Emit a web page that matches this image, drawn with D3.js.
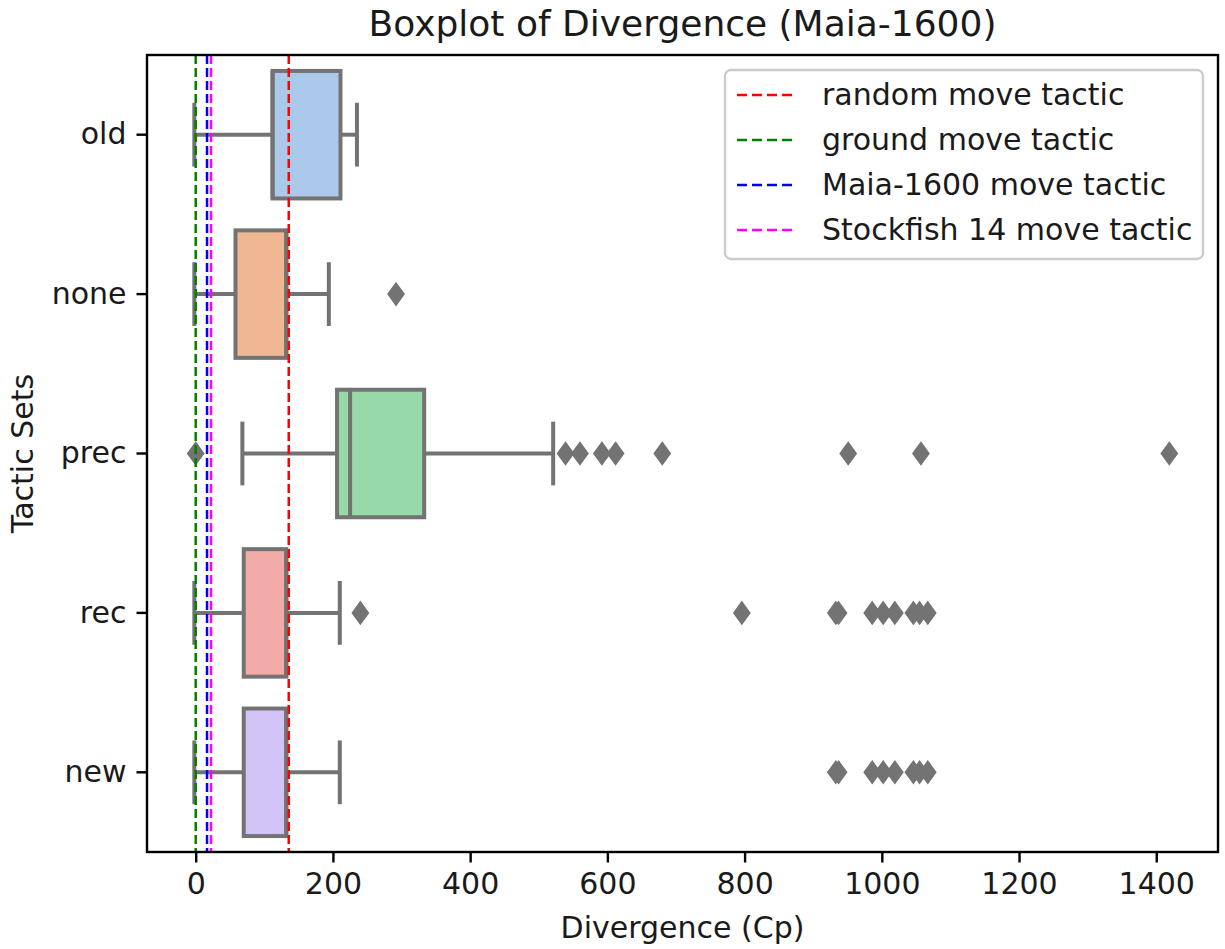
<!DOCTYPE html>
<html>
<head>
<meta charset="utf-8">
<script src="https://cdn.jsdelivr.net/npm/d3@7"></script>
<style>
  html, body { margin: 0; padding: 0; background: #fff; }
  text { font-family: "DejaVu Sans", sans-serif; fill: #1a1a1a; }
</style>
</head>
<body>
<div id="chart"></div>
<script>
// Tactic sets, one box each
const categories = ["old", "none", "prec", "rec", "new"]
const boxColors = ["#abc9ea", "#efb792", "#98daa7", "#f3aba8", "#d3c4f7"]

const q1 = [112, 58, 206, 70, 70]
const medians = [112, 132, 225, 132, 132]
const q3 = [211, 132, 333, 132, 132]
const whiskerLow = [-2, -2, 68, -2, -2]
const whiskerHigh = [235, 194, 521, 210, 210]
const outliers = [
  [],
  [292],
  [0, 539, 560, 592, 612, 680, 951, 1057, 1419],
  [240, 796, 933, 937, 986, 1002, 1019, 1046, 1055, 1067],
  [933, 937, 986, 1002, 1019, 1046, 1055, 1067],
]

// Reference lines (draw order = legend order)
const refLabels = ["random move tactic", "ground move tactic", "Maia-1600 move tactic", "Stockfish 14 move tactic"]
const refValues = [135.6, 0, 16.5, 22.3]
const refColors = ["#ff0000", "#008000", "#0000ff", "#ff00ff"]

const xTicks = [0, 200, 400, 600, 800, 1000, 1200, 1400]
const xLimits = [-71, 1490]

const width = 1225
const height = 949
const margin = { top: 55, right: 7, bottom: 97, left: 147 }
const innerW = width - margin.left - margin.right
const innerH = height - margin.top - margin.bottom
const GRAY = "#737373"

const svg = d3.select("#chart").append("svg")
  .attr("width", width)
  .attr("height", height)

const x = d3.scaleLinear()
  .domain(xLimits)
  .range([0, innerW])

const y = d3.scaleBand()
  .domain(categories)
  .range([0, innerH])
  .padding(0)

const g = svg.append("g")
  .attr("transform", `translate(${margin.left},${margin.top})`)

const boxH = y.bandwidth() * 0.8
const capH = boxH * 0.5

// Boxes
categories.forEach((c, i) => {
  const cy = y(c) + y.bandwidth() / 2
  const bg = g.append("g")

  // whiskers
  bg.append("line")
    .attr("x1", x(whiskerLow[i])).attr("x2", x(q1[i]))
    .attr("y1", cy).attr("y2", cy)
    .attr("stroke", GRAY).attr("stroke-width", 4)
  bg.append("line")
    .attr("x1", x(q3[i])).attr("x2", x(whiskerHigh[i]))
    .attr("y1", cy).attr("y2", cy)
    .attr("stroke", GRAY).attr("stroke-width", 4)

  // caps
  ;[whiskerLow[i], whiskerHigh[i]].forEach(v => {
    bg.append("line")
      .attr("x1", x(v)).attr("x2", x(v))
      .attr("y1", cy - capH / 2).attr("y2", cy + capH / 2)
      .attr("stroke", GRAY).attr("stroke-width", 4)
  })

  // box
  bg.append("rect")
    .attr("x", x(q1[i]))
    .attr("y", cy - boxH / 2)
    .attr("width", x(q3[i]) - x(q1[i]))
    .attr("height", boxH)
    .attr("fill", boxColors[i])
    .attr("stroke", GRAY).attr("stroke-width", 4)

  // median
  bg.append("line")
    .attr("x1", x(medians[i])).attr("x2", x(medians[i]))
    .attr("y1", cy - boxH / 2).attr("y2", cy + boxH / 2)
    .attr("stroke", GRAY).attr("stroke-width", 4)

  // fliers (thin diamonds)
  bg.selectAll(".flier")
    .data(outliers[i])
    .enter().append("path")
    .attr("class", "flier")
    .attr("d", d => `M${x(d)},${cy - 11} L${x(d) + 8},${cy} L${x(d)},${cy + 11} L${x(d) - 8},${cy} Z`)
    .attr("fill", GRAY)
    .attr("stroke", GRAY).attr("stroke-width", 1.5)
})

// Reference lines
refValues.forEach((v, i) => {
  g.append("line")
    .attr("x1", x(v)).attr("x2", x(v))
    .attr("y1", 0).attr("y2", innerH)
    .attr("stroke", refColors[i])
    .attr("stroke-width", 2.5)
    .attr("stroke-dasharray", "9 4")
})

// Frame
g.append("rect")
  .attr("x", 0).attr("y", 0)
  .attr("width", innerW).attr("height", innerH)
  .attr("fill", "none")
  .attr("stroke", "#000").attr("stroke-width", 2.4)

// X axis
const xAxis = g.append("g")
  .attr("transform", `translate(0,${innerH})`)
  .call(d3.axisBottom(x).tickValues(xTicks).tickSize(10.5).tickPadding(10).tickFormat(d3.format("d")))
xAxis.select(".domain").remove()
xAxis.selectAll(".tick line").attr("stroke", "#000").attr("stroke-width", 2.4)
xAxis.selectAll("text")
  .attr("font-size", 30)
  .attr("fill", "#1a1a1a")
  .attr("font-family", "DejaVu Sans, sans-serif")

// Y axis
const yAxis = g.append("g")
  .call(d3.axisLeft(y).tickSize(10.5).tickPadding(10))
yAxis.select(".domain").remove()
yAxis.selectAll(".tick line").attr("stroke", "#000").attr("stroke-width", 2.4)
yAxis.selectAll("text")
  .attr("font-size", 30)
  .attr("fill", "#1a1a1a")
  .attr("font-family", "DejaVu Sans, sans-serif")

// Axis labels and title
svg.append("text")
  .attr("x", margin.left + innerW / 2)
  .attr("y", 938)
  .attr("text-anchor", "middle")
  .attr("font-size", 30)
  .text("Divergence (Cp)")

svg.append("text")
  .attr("transform", `translate(33,${margin.top + innerH / 2}) rotate(-90)`)
  .attr("text-anchor", "middle")
  .attr("font-size", 30)
  .text("Tactic Sets")

svg.append("text")
  .attr("x", margin.left + innerW / 2)
  .attr("y", 36)
  .attr("text-anchor", "middle")
  .attr("font-size", 36)
  .text("Boxplot of Divergence (Maia-1600)")

// Legend
const legend = svg.append("g").attr("transform", "translate(725,70)")
legend.append("rect")
  .attr("width", 478).attr("height", 189)
  .attr("rx", 6).attr("ry", 6)
  .attr("fill", "#fff").attr("fill-opacity", 0.8)
  .attr("stroke", "#cccccc").attr("stroke-width", 2.4)

refLabels.forEach((label, i) => {
  const ly = 25 + i * 45
  legend.append("line")
    .attr("x1", 12).attr("x2", 72)
    .attr("y1", ly).attr("y2", ly)
    .attr("stroke", refColors[i])
    .attr("stroke-width", 2.5)
    .attr("stroke-dasharray", "10 5")
  legend.append("text")
    .attr("x", 97).attr("y", ly + 10)
    .attr("font-size", 30)
    .text(label)
})
</script>
</body>
</html>
